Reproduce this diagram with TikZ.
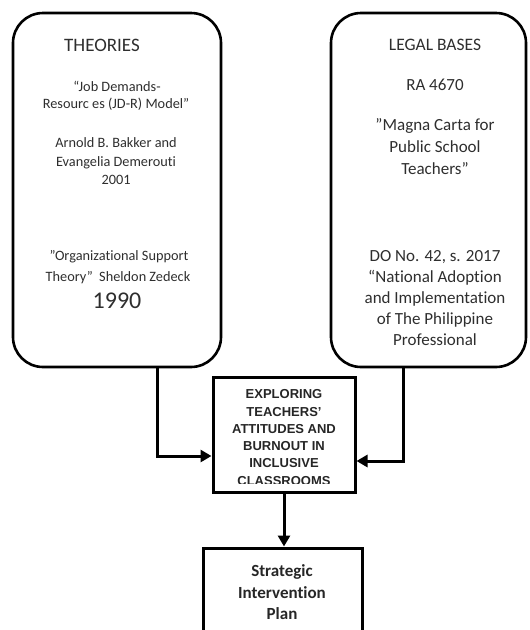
\documentclass[tikz,border=0pt]{standalone}
\usepackage{fontspec}
\setmainfont{Carlito}[RawFeature=-liga]
\newfontfamily\arialfont{Liberation Sans}
\usetikzlibrary{arrows.meta}
\newcommand{\sq}{\symbol{34}}
\begin{document}
\begin{tikzpicture}[x=1pt,y=-1pt,
  rbox/.style={draw, line width=2.6pt, rounded corners=30pt, inner sep=0pt},
  sbox/.style={draw, line width=3pt, inner sep=0pt},
  txt/.style={anchor=base, inner sep=0pt, text=black!82},
  lt/.style={txt, font=\fontsize{14.3}{17}\selectfont},
  rt/.style={txt, font=\fontsize{17}{21}\selectfont},
  mt/.style={txt, text=black!85, font=\arialfont\bfseries\fontsize{13}{17}\selectfont},
  bt/.style={txt, text=black!85, font=\bfseries\fontsize{17}{21}\selectfont},
  arr/.style={line width=3pt, -{Triangle[length=11pt,width=12pt]}},
]
\useasboundingbox (0,0) rectangle (530,630);
% boxes
\node[rbox, minimum width=208pt, minimum height=354pt] (L) at (117,190) {};
\node[rbox, minimum width=195pt, minimum height=354pt] (R) at (428.5,190) {};
\node[sbox, minimum width=142pt, minimum height=115pt] (M) at (284,434.5) {};
\node[sbox, minimum width=159pt, minimum height=120pt] (B) at (282.5,608) {};
% left texts
\node[txt, font=\fontsize{19}{22}\selectfont] (lh) at (102,51) {THEORIES};
\node[lt] (l1) at (117,91.7) {“Job Demands-};
\node[lt] (l2) at (116,108.7) {Resourc es (JD-R) Model”};
\node[lt] (l3) at (116,147.7) {Arnold B. Bakker and};
\node[lt] (l4) at (116,166.7) {Evangelia Demerouti};
\node[lt] (l5) at (116,184.7) {2001};
\node[lt] (l6) at (119,260.7) {\sq Organizational Support};
\node[lt] (l7) at (118,281.7) {Theory\sq\ \ Sheldon Zedeck};
\node[txt, font=\fontsize{24}{28}\selectfont] (l8) at (117,308.7) {1990};
% right texts
\node[txt, font=\fontsize{17.5}{21}\selectfont] (rh) at (435,50.8) {LEGAL BASES};
\node[rt] (r1) at (435,90.6) {RA 4670};
\node[rt] (r2) at (435,130.6) {\sq Magna Carta for};
\node[rt] (r3) at (435,152.6) {Public School};
\node[rt] (r4) at (435,174) {Teachers”};
\node[rt] (r5) at (435,261.6) {DO No. 42, s. 2017};
\node[rt] (r6) at (435,282.6) {“National Adoption};
\node[rt] (r7) at (435,303.6) {and Implementation};
\node[rt] (r8) at (435,324.6) {of The Philippine};
\node[rt] (r9) at (435,345.6) {Professional};
% middle texts
\begin{scope}
\clip (215,379) rectangle (353,483);
\node[mt] (m1) at (284,398.7) {EXPLORING};
\node[mt] (m2) at (284,416) {TEACHERS’};
\node[mt] (m3) at (284,433.3) {ATTITUDES AND};
\node[mt] (m4) at (284,450.6) {BURNOUT IN};
\node[mt] (m5) at (284,467.9) {INCLUSIVE};
\node[mt] (m6) at (284,485.2) {CLASSROOMS};
\end{scope}
% bottom texts
\node[bt] (b1) at (282,576.5) {Strategic};
\node[bt] (b2) at (282,598.5) {Intervention};
\node[bt] (b3) at (282,619.5) {Plan};
% connectors
\draw[arr] ([xshift=40pt]L.south) |- ([yshift=-21.5pt]M.west);
\draw[arr] ([xshift=-25.5pt]R.south) |- ([yshift=-26.5pt]M.east);
\draw[arr] (M.south) -- (M.south |- B.north);
\end{tikzpicture}
\end{document}
